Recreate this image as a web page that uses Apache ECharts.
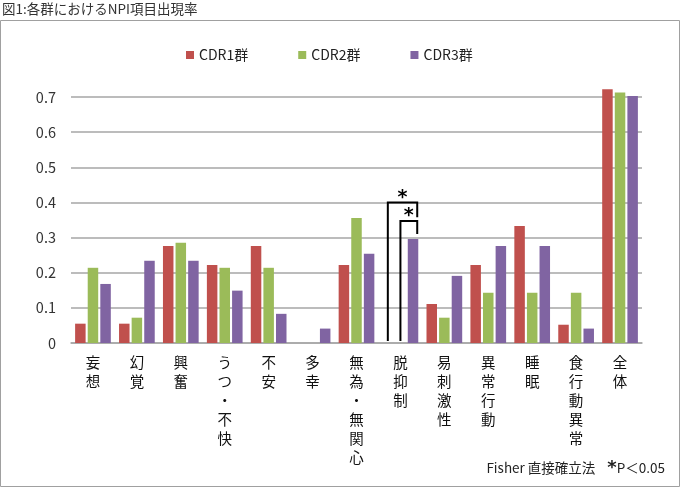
<!DOCTYPE html>
<html><head><meta charset="utf-8">
<script src="https://cdn.jsdelivr.net/npm/echarts@6/dist/echarts.min.js"></script>
<style>html,body{margin:0;padding:0;background:#fff}#c{width:680px;height:489px}</style>
</head><body><div id="c"></div>
<script>
// ---- data ----
const categories = ['妄想','幻覚','興奮','うつ・不快','不安','多幸','無為・無関心','脱抑制','易刺激性','異常行動','睡眠','食行動異常','全体'];
const seriesNames = ['CDR1群','CDR2群','CDR3群'];
const cdr1 = [0.055,0.055,0.276,0.222,0.276,0,0.222,0,0.111,0.222,0.333,0.052,0.722];
const cdr2 = [0.214,0.072,0.285,0.214,0.214,0,0.356,0,0.072,0.143,0.143,0.143,0.713];
const cdr3 = [0.168,0.234,0.234,0.149,0.083,0.041,0.254,0.296,0.191,0.276,0.276,0.041,0.703];
const yTickLabels = ['0','0.1','0.2','0.3','0.4','0.5','0.6','0.7'];
// significance brackets (Fisher exact test)
const sigCategory = ['脱抑制','脱抑制'];
const sigFromSeries = [0, 1];
const sigToSeries = [2, 2];
const sigTopValue = [0.400, 0.347];
const sigRightEndValue = [0.358, 0.310];
const sigMark = ['*','*'];
const titleText = '図1:各群におけるNPI項目出現率';
const noteMethod = 'Fisher 直接確立法';
const noteP = 'P＜0.05';

// ---- chart ----
const FONT = '"Noto Sans CJK JP", "Noto Sans", sans-serif';
const colors = ['#C0504D','#9BBB59','#8064A2'];
const BAR_W = 10.5, GAP_RATIO = 0.2;
const allSeries = [cdr1, cdr2, cdr3];

const sigData = sigCategory.map((c, i) => [c, sigFromSeries[i], sigToSeries[i], sigTopValue[i], sigRightEndValue[i], categories.indexOf(c)]);

const chart = echarts.init(document.getElementById('c'), null, {renderer: 'canvas'});
chart.setOption({
  animation: false,
  textStyle: {fontFamily: FONT},
  color: colors,
  grid: {left: 71, right: 38, top: 97, bottom: 146},
  legend: {
    data: seriesNames, top: 43, left: 181, itemWidth: 8, itemHeight: 8, itemGap: 50, icon: 'rect',
    textStyle: {fontSize: 14, color: '#222', fontFamily: FONT}
  },
  xAxis: {
    type: 'category', data: categories,
    axisLine: {show: true, lineStyle: {color: '#a6a6a6', width: 1.5}},
    axisTick: {show: false},
    axisLabel: {
      interval: 0, margin: 10, fontSize: 14.5, lineHeight: 19, color: '#111', fontFamily: FONT,
      formatter: v => v.split('').join('\n')
    }
  },
  yAxis: {
    type: 'value', min: 0, max: 0.7, interval: 0.1,
    axisLine: {show: false}, axisTick: {show: false},
    splitLine: {lineStyle: {color: '#a6a6a6', width: 1.5}},
    axisLabel: {
      margin: 15, fontSize: 14.5, color: '#333', fontFamily: FONT,
      formatter: v => yTickLabels[Math.round(v * 10)]
    }
  },
  series: seriesNames.map((n, i) => ({
    name: n, type: 'bar', data: allSeries[i], barWidth: BAR_W, barGap: (GAP_RATIO*100) + '%', clip: false,
    itemStyle: {color: colors[i]}
  })).concat([{
    type: 'custom', silent: true, clip: false, z: 10,
    data: sigData,
    renderItem: function (params, api) {
      const cat = api.value(5);
      const from = api.value(1), to = api.value(2), top = api.value(3), rEnd = api.value(4);
      const base = api.coord([cat, 0]);
      const step = BAR_W * (1 + GAP_RATIO);
      const xL = base[0] + (from - 1) * step;
      const xR = base[0] + (to - 1) * step + BAR_W * 0.4;
      const yL = api.coord([cat, allSeries[from][cat]])[1] - 2;
      const yT = api.coord([cat, top])[1];
      const yR = api.coord([cat, rEnd])[1];
      return {
        type: 'group',
        children: [
          {type: 'polyline', shape: {points: [[xL, yL], [xL, yT], [xR, yT], [xR, yR]]},
           style: {stroke: '#000', lineWidth: 2, fill: null}},
          {type: 'text', x: (xL + xR) / 2, y: yT + 5,
           style: {text: sigMark[params.dataIndex], fill: '#000', font: 'bold 19px "DejaVu Sans", sans-serif', align: 'center', verticalAlign: 'bottom'}}
        ]
      };
    }
  }]),
  graphic: [
    {type: 'rect', shape: {x: 0.5, y: 20.5, width: 679, height: 466}, style: {stroke: '#a0a0a0', fill: null, lineWidth: 1}, silent: true},
    {type: 'text', left: 2, top: 2, style: {text: titleText, font: '13.5px ' + FONT, fill: '#333'}},
    {type: 'text', right: 15, top: 459, style: {
      text: '{a|' + noteMethod + '}　{s|*}{b|' + noteP + '}',
      rich: {
        a: {fontSize: 13.5, fontFamily: FONT, fill: '#222'},
        s: {fontSize: 18, fontWeight: 'bold', fontFamily: '"DejaVu Sans", sans-serif', fill: '#222', verticalAlign: 'top'},
        b: {fontSize: 13.5, fontFamily: FONT, fill: '#222'}
      }
    }}
  ]
});
</script></body></html>
